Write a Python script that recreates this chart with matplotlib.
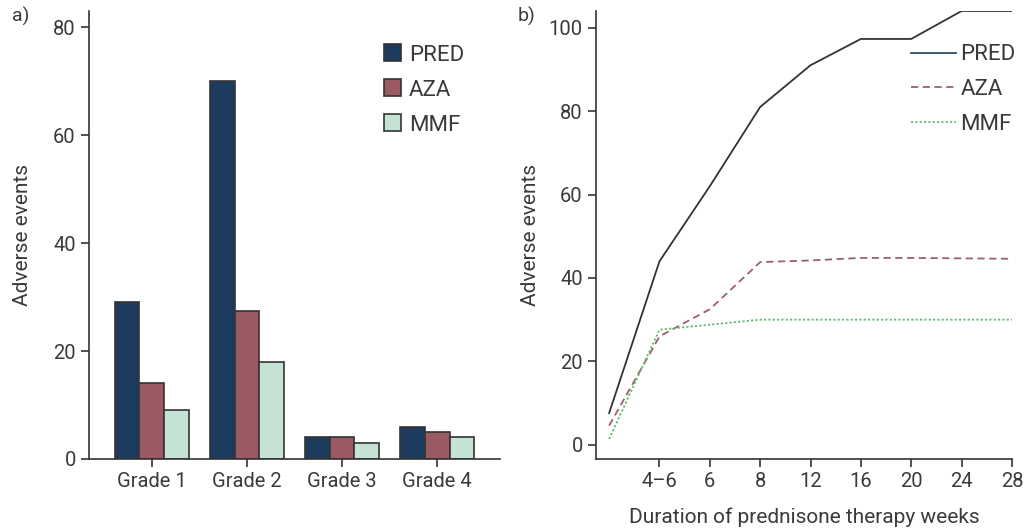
import matplotlib
matplotlib.use('Agg')
import matplotlib.pyplot as plt
import numpy as np

# data
grades = ['Grade 1', 'Grade 2', 'Grade 3', 'Grade 4']
pred_bars = [29, 70, 4, 6]
aza_bars = [14, 27.5, 4, 5]
mmf_bars = [9, 18, 3, 4]

weeks = ['', '4\u20136', '6', '8', '12', '16', '20', '24', '28']
pred_line = [7.6, 44, 62, 81, 91, 97.3, 97.3, 104, 104]
aza_line = [4.6, 26, 32.5, 43.8, 44.2, 44.8, 44.8, 44.7, 44.6]
mmf_line = [1.4, 27.6, 28.8, 30, 30, 30, 30, 30, 30]

txt = '#3a3a3a'
plt.rcParams['font.family'] = ['Roboto', 'DejaVu Sans']
plt.rcParams['font.size'] = 14
plt.rcParams['text.color'] = txt
plt.rcParams['axes.labelcolor'] = txt
plt.rcParams['xtick.color'] = '#333333'
plt.rcParams['ytick.color'] = '#333333'
plt.rcParams['xtick.labelcolor'] = txt
plt.rcParams['ytick.labelcolor'] = txt

fig = plt.figure(figsize=(10.25, 5.31), dpi=100)

# ---------------- a) bars ----------------
ax1 = fig.add_axes([0.0868, 0.1356, 0.401, 0.8437])
x = np.arange(len(grades))
w = 0.26
edge = '#333333'
ax1.bar(x - w, pred_bars, w, color='#1d3b5c', edgecolor=edge, linewidth=1.2, label='PRED')
ax1.bar(x, aza_bars, w, color='#9a5a61', edgecolor=edge, linewidth=1.2, label='AZA')
ax1.bar(x + w, mmf_bars, w, color='#c5e2d5', edgecolor=edge, linewidth=1.2, label='MMF')
ax1.set_xlim(-0.66, 3.66)
ax1.set_ylim(0, 83)
ax1.set_xticks(x)
ax1.set_xticklabels(grades)
ax1.set_yticks([0, 20, 40, 60, 80])
ax1.set_ylabel('Adverse events', fontsize=15, labelpad=15)
ax1.legend(loc='upper left', bbox_to_anchor=(0.668, 0.97), frameon=False, fontsize=16,
           handlelength=0.8, handleheight=0.8, handletextpad=0.35, labelspacing=0.62)

# ---------------- b) lines ----------------
ax2 = fig.add_axes([0.5815, 0.1356, 0.4058, 0.8437])
xi = np.arange(len(weeks))
ax2.plot(xi, pred_line, color='#333333', lw=1.3)
ax2.plot(xi, aza_line, color='#9c5f6c', lw=1.3, ls=(0, (4, 2.5)))
ax2.plot(xi, mmf_line, color='#5cbf6c', lw=1.3, ls=(0, (1.2, 1.2)))
ax2.set_xlim(-0.26, 8)
ax2.set_ylim(-3.4, 104)
ax2.set_xticks(xi[1:])
ax2.set_xticklabels(weeks[1:])
ax2.set_yticks([0, 20, 40, 60, 80, 100])
ax2.set_ylabel('Adverse events', fontsize=15, labelpad=6)
ax2.set_xlabel('Duration of prednisone therapy weeks', fontsize=15, labelpad=12)
h1, = ax2.plot([], [], color='#2f4a66', lw=1.3, label='PRED')
h2, = ax2.plot([], [], color='#9c5f6c', lw=1.3, ls=(0, (4, 2.5)), label='AZA')
h3, = ax2.plot([], [], color='#5cbf6c', lw=1.3, ls=(0, (1.2, 1.2)), label='MMF')
ax2.legend(handles=[h1, h2, h3], loc='upper left', bbox_to_anchor=(0.71, 0.97),
           frameon=False, fontsize=16, handlelength=2.0, handletextpad=0.2, labelspacing=0.62)

for ax in (ax1, ax2):
    for s in ('top', 'right'):
        ax.spines[s].set_visible(False)
    for s in ('left', 'bottom'):
        ax.spines[s].set_color('#333333')
        ax.spines[s].set_linewidth(1.2)
    ax.tick_params(direction='out', length=6, width=1.2, labelsize=14.5)

fig.text(0.012, 0.96, 'a)', fontsize=14)
fig.text(0.505, 0.96, 'b)', fontsize=14)

fig.savefig('out.png', dpi=100)
